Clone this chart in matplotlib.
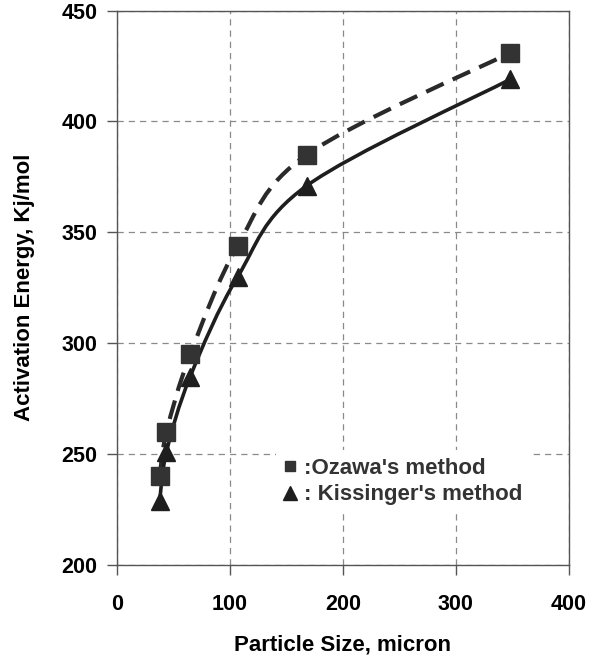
import matplotlib
matplotlib.use("Agg")
import matplotlib.pyplot as plt
from matplotlib.path import Path
from matplotlib.patches import PathPatch
from matplotlib.lines import Line2D
import numpy as np

# Data
particle_size = [38, 44, 65, 107, 168, 348]
ozawa = [240, 260, 295, 344, 385, 431]
kissinger = [229, 251, 285, 330, 371, 419]
xticks = [0, 100, 200, 300, 400]
yticks = [200, 250, 300, 350, 400, 450]
labels = [":Ozawa's method", ": Kissinger's method"]

plt.rcParams['font.family'] = ['Liberation Sans', 'DejaVu Sans']
plt.rcParams['font.weight'] = 'bold'

fig = plt.figure(figsize=(5.91, 6.61), dpi=100)
ax = fig.add_axes([0.1975, 0.1452, 0.9628 - 0.1975, 0.984 - 0.1452])


def smooth_path(xs, ys):
    pts = np.column_stack([xs, ys]).astype(float)
    n = len(pts)
    verts = [pts[0]]
    codes = [Path.MOVETO]
    for i in range(n - 1):
        p0 = pts[i - 1] if i > 0 else pts[i]
        p1 = pts[i]
        p2 = pts[i + 1]
        p3 = pts[i + 2] if i + 2 < n else pts[i + 1]
        c1 = p1 + (p2 - p0) / 6.0
        c2 = p2 - (p3 - p1) / 6.0
        verts += [c1, c2, p2]
        codes += [Path.CURVE4] * 3
    return Path(verts, codes)


ax.add_patch(PathPatch(smooth_path(particle_size, ozawa), fill=False,
                       edgecolor='#2a2a2a', lw=3.0, linestyle=(0, (4.6, 2.4)),
                       capstyle='butt', zorder=3))
ax.add_patch(PathPatch(smooth_path(particle_size, kissinger), fill=False,
                       edgecolor='#1e1e1e', lw=2.6, zorder=3))

ax.plot(particle_size, ozawa, linestyle='none', marker='s', markersize=12.5,
        color='#333333', zorder=4)
ax.plot(particle_size, kissinger, linestyle='none', marker='^', markersize=13.5,
        color='#1e1e1e', zorder=4)

ax.set_xlim(0, 400)
ax.set_ylim(200, 450)
ax.set_xticks(xticks)
ax.set_yticks(yticks)
ax.tick_params(axis='both', direction='out', length=7, width=1, color='#555555',
               labelsize=15.5, pad=7)
for lab in ax.get_xticklabels() + ax.get_yticklabels():
    lab.set_fontweight('bold')
ax.tick_params(axis='x', pad=14)
ax.grid(True, color='#8a8a8a', linestyle=(0, (5, 4)), linewidth=0.9)
for s in ax.spines.values():
    s.set_color('#555555')
    s.set_linewidth(1.0)

ax.set_xlabel('Particle Size, micron', fontsize=16, fontweight='bold', labelpad=14)
ax.set_ylabel('Activation Energy, Kj/mol', fontsize=16, fontweight='bold', labelpad=19)

handles = [
    Line2D([], [], linestyle='none', marker='s', markersize=6.5, color='#333333'),
    Line2D([], [], linestyle='none', marker='^', markersize=10, color='#1e1e1e'),
]
leg = ax.legend(handles, labels, loc='upper left',
                bbox_to_anchor=((276 - 116.7) / 452.3, (565 - 450) / 554.5),
                frameon=True, framealpha=1, edgecolor='none', facecolor='white',
                fancybox=False, handlelength=0.55, handletextpad=0.35,
                labelspacing=0.25, borderpad=0.35, borderaxespad=0,
                prop={'size': 16, 'weight': 'bold'})
for t in leg.get_texts():
    t.set_color('#333333')
leg.set_zorder(5)

fig.savefig('out.png', dpi=100)
